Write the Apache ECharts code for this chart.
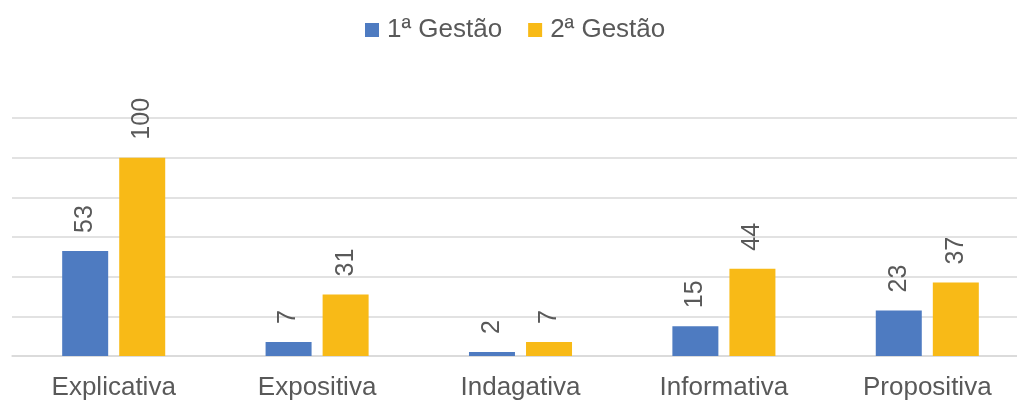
<!DOCTYPE html>
<html>
<head>
<meta charset="utf-8">
<script src="https://cdn.jsdelivr.net/npm/echarts@6/dist/echarts.min.js"></script>
<style>
html,body{margin:0;padding:0;background:#fff;overflow:hidden;width:1017px;height:401px;}
#c{width:1029px;height:401px;}
</style>
</head>
<body>
<div id="c"></div>
<script>
const categories = ['Explicativa', 'Expositiva', 'Indagativa', 'Informativa', 'Propositiva'];
const seriesNames = ['1ª Gestão', '2ª Gestão'];
const gestao1 = [53, 7, 2, 15, 23];
const gestao2 = [100, 31, 7, 44, 37];

const FONT = '"Liberation Sans", Arial, sans-serif';
const chart = echarts.init(document.getElementById('c'), null, {renderer: 'canvas'});
const labelCfg = {
  show: true,
  position: 'top',
  rotate: 90,
  align: 'left',
  verticalAlign: 'middle',
  distance: 18,
  color: '#595959',
  fontSize: 25,
  fontFamily: FONT
};
chart.setOption({
  animation: false,
  legend: {
    top: 12,
    left: 360,
    itemWidth: 14,
    itemHeight: 14,
    itemGap: 26,
    icon: 'rect',
    textStyle: {color: '#595959', fontSize: 26, fontFamily: FONT, padding: [0, 0, 0, 3]},
    data: seriesNames
  },
  grid: {left: 12, right: 0, top: 118, bottom: 45, containLabel: false},
  xAxis: {
    type: 'category',
    data: categories,
    axisLine: {show: true, lineStyle: {color: '#D9D9D9', width: 1.5}},
    axisTick: {show: false},
    axisLabel: {color: '#595959', fontSize: 26, fontFamily: FONT, margin: 19}
  },
  yAxis: {
    type: 'value',
    min: 0,
    max: 120,
    interval: 20,
    axisLabel: {show: false},
    axisLine: {show: false},
    axisTick: {show: false},
    splitLine: {lineStyle: {color: '#D9D9D9', width: 1.5}}
  },
  series: [
    {name: seriesNames[0], type: 'bar', data: gestao1, barWidth: 46, barGap: '24%',
     itemStyle: {color: '#4E7BC1'}, label: labelCfg},
    {name: seriesNames[1], type: 'bar', data: gestao2, barWidth: 46, barGap: '24%',
     itemStyle: {color: '#F8BA17'}, label: labelCfg}
  ]
});
</script>
</body>
</html>
